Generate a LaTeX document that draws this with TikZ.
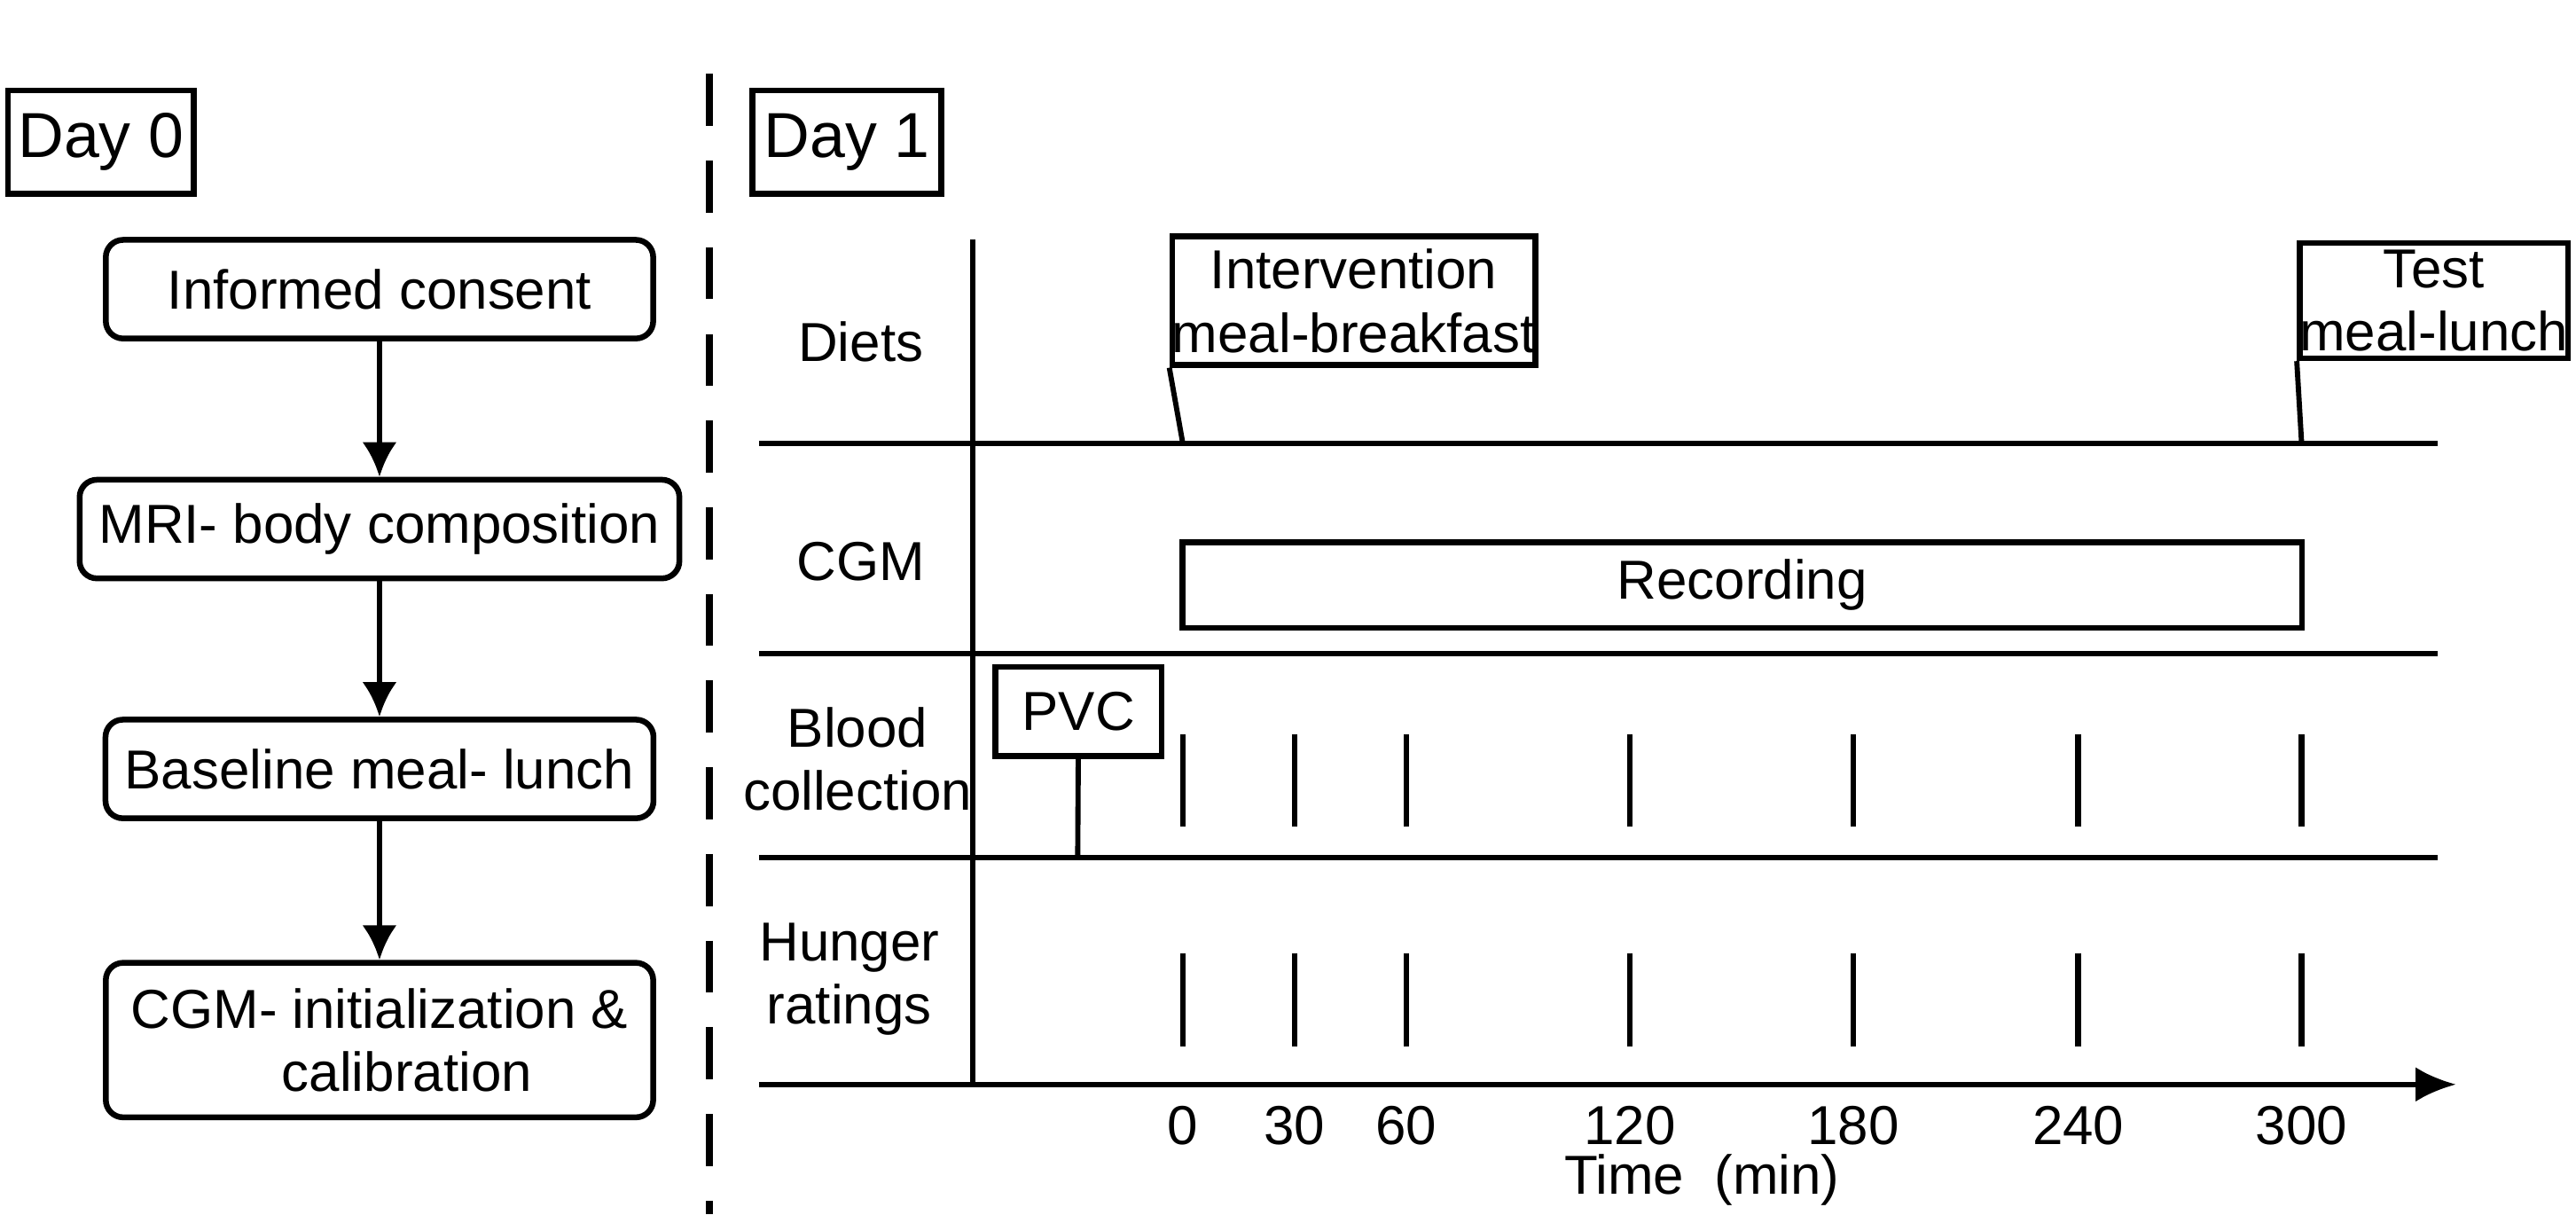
\documentclass[tikz,border=0pt]{standalone}
\usepackage{fontspec}
\setmainfont{Liberation Sans}
\usetikzlibrary{arrows.meta}
\begin{document}
\begin{tikzpicture}[x=0.01cm,y=-0.01cm,line width=0.9pt,
  every node/.style={font=\fontsize{9.5pt}{11pt}\selectfont},
  flow/.style={draw,rounded corners=3pt,line width=1pt,minimum height=0.6cm,minimum width=3.33cm,align=center},
  sq/.style={draw,line width=1pt,inner sep=0pt},
  arr/.style={-{Latex[length=6pt,width=6pt]},line width=1pt},
  tick/.style={line width=1pt}]
\useasboundingbox (0,0) rectangle (1568,739);
% day labels
\node[sq,minimum width=1.13cm,minimum height=0.63cm,font=\fontsize{11pt}{13pt}\selectfont] (d0) at (61.5,86.5) {Day 0};
\node[sq,minimum width=1.15cm,minimum height=0.63cm,font=\fontsize{11pt}{13pt}\selectfont] (d1) at (515.5,86.5) {Day 1};
\draw[dashed,line width=1.2pt,dash pattern=on 9pt off 6pt] (432,45) coordinate (da) -- (432,739) coordinate (db);
% left flow
\node[flow] (a) at (231,176) {Informed consent};
\node[flow] (b) at (231,322) {MRI- body composition};
\node[flow] (c) at (231,468) {Baseline meal- lunch};
\node[flow,minimum height=0.94cm] (e) at (231,633) {CGM- initialization \&\\ \quad calibration};
\draw[arr] (a) -- (b);
\draw[arr] (b) -- (c);
\draw[arr] (c) -- (e);
% grid
\draw (592,146) coordinate (vt) -- (592,660) coordinate (vb);
\foreach \y/\n in {270/h1,398/h2,522/h3}{\draw (462,\y) coordinate (\n a) -- (1484,\y) coordinate (\n b);}
\draw[-{Latex[length=7pt,width=6pt]}] (462,660) coordinate (ax) -- (1495,660) coordinate (axe);
% row labels
\node (l1) at (524,208) {Diets};
\node (l2) at (524,342) {CGM};
\node[align=center] (l3) at (522,462) {Blood\\collection};
\node[align=center] (l4) at (517,596) {Hunger\\ratings};
% diets boxes
\node[sq,minimum width=2.08cm,minimum height=0.78cm,align=center] (iv) at (824,183) {Intervention\\meal-breakfast};
\coordinate (iv0) at (720,270);
\draw (iv.south west) -- (iv0);
\node[sq,minimum width=1.61cm,minimum height=0.70cm,align=center] (tm) at (1481.5,183) {Test\\meal-lunch};
\coordinate (tm0) at (1401,270);
\draw (tm.south west) -- (tm0);
% recording
\node[sq,minimum width=6.81cm,minimum height=0.52cm] (rec) at (1060.5,356) {Recording};
% PVC
\node[sq,minimum width=1.01cm,minimum height=0.54cm] (pvc) at (656.5,433) {PVC};
\coordinate (pvc0) at (656,522);
\draw (pvc) -- (pvc0);
% ticks
\foreach \x/\t in {720/0,788/30,856/60,992/120,1128/180,1265/240,1401/300}{
  \draw[tick] (\x,447) coordinate (bt\t) -- (\x,503) coordinate (bb\t);
  \draw[tick] (\x,580) coordinate (ht\t) -- (\x,637) coordinate (hb\t);
  \node (tl\t) at (\x,685) {\t};
}
\node (tx) at (1036,718) {Time\ \ (min)};
\end{tikzpicture}
\end{document}
